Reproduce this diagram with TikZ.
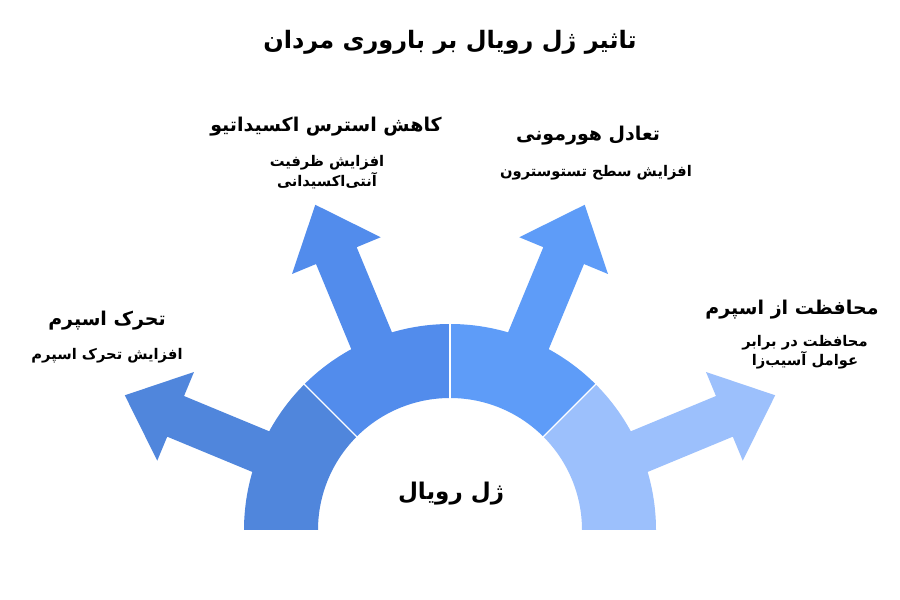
\documentclass[tikz,border=0pt]{standalone}
\usepackage{fontspec}
\newfontfamily\fafont[Script=Arabic]{DejaVu Sans}
\TeXXeTstate=1
\usetikzlibrary{positioning,calc}

\definecolor{segA}{HTML}{5086DC}
\definecolor{segB}{HTML}{528CEC}
\definecolor{segC}{HTML}{5E9CF8}
\definecolor{segD}{HTML}{9CC0FC}

\begin{document}
\begin{tikzpicture}[x=1pt, y=1pt]
    \tikzset{title/.style={font=\fafont\bfseries\fontsize{24}{28}\selectfont, inner sep=0pt},
      head/.style={font=\fafont\bfseries\fontsize{19}{22}\selectfont, inner sep=0pt},
      sub/.style={font=\fafont\bfseries\fontsize{14.7}{20.5}\selectfont, inner sep=0pt, align=center},
      gap/.style={draw=white, line width=1.2pt}
    }

    \fill[white] (0,0) rectangle (900,600);
    \useasboundingbox (0,0) rectangle (900,600);
    \coordinate (C) at (450,70);

    % arrows and ring segments
    \foreach \a/\c in {157.5/segA, 112.5/segB, 67.5/segC, 22.5/segD} {
      \fill[\c, shift={(C)}, rotate=\a] (150pt,-22pt) -- (297pt,-22pt) -- (297pt,-48pt) -- (352pt,0pt)
        -- (297pt,48pt) -- (297pt,22pt) -- (150pt,22pt) -- cycle;
      \fill[\c, shift={(C)}] (\a-22.5:132pt) -- (\a-22.5:206pt) arc[start angle=\a-22.5, end angle=\a+22.5, radius=206pt]
        -- (\a+22.5:132pt) arc[start angle=\a+22.5, end angle=\a-22.5, radius=132pt] -- cycle;
    }
    \foreach \a in {45,90,135}
      \draw[gap, shift={(C)}] (\a:131pt) -- (\a:207pt);

    \node[title] (T) at (450,558) {\beginR تاثیر ژل رویال بر باروری مردان\endR};
    \node[title, font=\fafont\bfseries\fontsize{23}{27}\selectfont] (J) at (451,106) {\beginR ژل رویال\endR};

    \node[head] (h1) at (107,279) {\beginR تحرک اسپرم\endR};
    \node[sub] (s1) at (107,244) {\beginR افزایش تحرک اسپرم\endR};

    \node[head] (h2) at (326,473) {\beginR کاهش استرس اکسیداتیو\endR};
    \node[sub] (s2) at (327,428) {\beginR افزایش ظرفیت\endR\\\beginR آنتی‌اکسیدانی\endR};

    \node[head] (h3) at (588,464) {\beginR تعادل هورمونی\endR};
    \node[sub] (s3) at (596,427) {\beginR افزایش سطح تستوسترون\endR};

    \node[head] (h4) at (792,290) {\beginR محافظت از اسپرم\endR};
    \node[sub, font=\fafont\bfseries\fontsize{14.7}{19}\selectfont] (s4) at (805,248) {\beginR محافظت در برابر\endR\\\beginR عوامل آسیب‌زا\endR};
  \end{tikzpicture}
\end{document}
